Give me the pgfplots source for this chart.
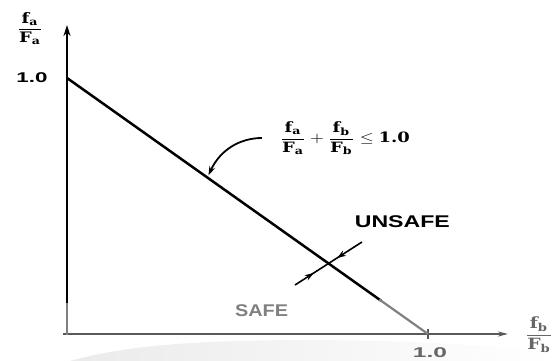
\documentclass[border=0pt]{standalone}
\usepackage{amsmath}
\usepackage{graphicx}
\usepackage{fontspec}
\setmainfont{Liberation Sans}
\newfontfamily\slab{DejaVu Serif}
\usepackage{pgfplots}
\pgfplotsset{compat=1.18}
\usetikzlibrary{arrows.meta,decorations.markings}
\newcommand{\sv}[1]{\text{\slab\bfseries #1}}
\begin{document}
\begin{tikzpicture}
\begin{axis}[
  x=361pt, y=256pt,
  xmin=-0.1856, xmax=1.3463, ymin=-0.1055, ymax=1.3047,
  hide axis, clip=false,
]
% watermark band
\shade[left color=gray!16, right color=white, draw=none]
  (axis cs:0.008,-0.1055) .. controls (axis cs:0.2,-0.03) and (axis cs:0.45,-0.02) .. (axis cs:0.8,-0.025)
  .. controls (axis cs:1.0,-0.03) and (axis cs:1.2,-0.05) .. (axis cs:1.3463,-0.06)
  -- (axis cs:1.3463,-0.1055) -- cycle;
% axes
\draw[gray!70!black, line width=1.5pt, -{Stealth[length=10pt,width=5pt]}] (axis cs:-0.011,0) -- (axis cs:1.2216,0);
\draw[black, line width=2.6pt, -{Stealth[length=11pt,width=7pt]}] (axis cs:0,0.11) -- (axis cs:0,1.207);
\draw[gray, line width=2.4pt] (axis cs:0,-0.004) -- (axis cs:0,0.12);
\draw[gray!70!black, line width=1.3pt] (axis cs:1,-0.02) -- (axis cs:1,0.02);
% interaction line
\addplot[black, line width=2.5pt] coordinates {(0,1) (0.87,0.13)};
\addplot[gray, line width=2.2pt] coordinates {(0.865,0.135) (1,0)};
% tick labels
\node at (axis cs:-0.097,1.0) {\resizebox*{31pt}{10pt}{\bfseries 1.0}};
\node at (axis cs:1.0055,-0.072) {\resizebox*{34pt}{10pt}{\color{gray!80!black}\bfseries 1.0}};
% axis labels
\node at (axis cs:-0.1025,1.193) {\resizebox*{26pt}{33pt}{$\dfrac{\sv{f}_{\sv{a}}}{\sv{F}_{\sv{a}}}$}};
\node[gray!80!black] at (axis cs:1.3075,-0.004) {\resizebox*{28pt}{36pt}{$\dfrac{\sv{f}_{\sv{b}}}{\sv{F}_{\sv{b}}}$}};
% formula
\node at (axis cs:0.770,0.7637) {\resizebox*{130pt}{33pt}{$\dfrac{\sv{f}_{\sv{a}}}{\sv{F}_{\sv{a}}}+\dfrac{\sv{f}_{\sv{b}}}{\sv{F}_{\sv{b}}}\leq \sv{1.0}$}};
\draw[black, line width=1.8pt, -{Stealth[length=9pt,width=6pt]}]
  (axis cs:0.540,0.7656) .. controls (axis cs:0.479,0.7656) and (axis cs:0.4238,0.7188) .. (axis cs:0.392,0.62);
% labels
\node at (axis cs:0.929,0.4395) {\resizebox*{95pt}{12pt}{\bfseries UNSAFE}};
\node at (axis cs:0.5388,0.0898) {\resizebox*{53pt}{12pt}{\color{gray}\bfseries SAFE}};
% crossing arrows
\draw[black, line width=1.6pt, postaction={decorate}, decoration={markings,
   mark=at position 0.28 with {\arrow{Stealth[length=9pt,width=6pt]}},
   mark=at position 0.74 with {\arrow{Stealth[length=9pt,width=6pt,reversed]}}}]
  (axis cs:0.6316,0.1914) -- (axis cs:0.8172,0.3594);
\coordinate (ll) at (axis cs:-0.1856,-0.1055);
\coordinate (ur) at (axis cs:1.3463,1.3047);
\end{axis}
\pgfresetboundingbox
\path (ll) rectangle (ur);
\end{tikzpicture}
\end{document}
